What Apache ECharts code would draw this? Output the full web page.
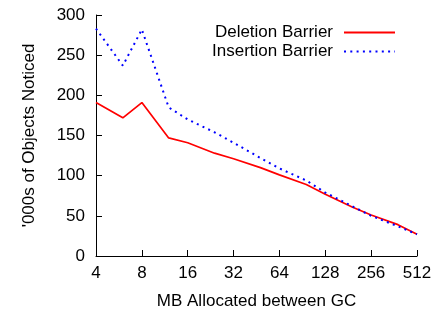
<!DOCTYPE html>
<html>
<head>
<meta charset="utf-8">
<script src="https://cdn.jsdelivr.net/npm/echarts@6/dist/echarts.min.js"></script>
<style>
  html, body { margin: 0; padding: 0; background: #fff; }
  #chart { width: 448px; height: 315px; }
</style>
</head>
<body>
<div id="chart"></div>
<script>
// MB allocated between GC (log2 x axis)
const mbAllocated = [4, 6, 8, 12, 16, 24, 32, 48, 64, 96, 128, 192, 256, 384, 512];
const deletionBarrier = [191, 172, 191, 147, 141, 128, 121, 110, 101, 89, 77, 61, 51, 39, 27];
const insertionBarrier = [283, 237, 282, 185, 170, 154, 141, 122, 109, 94, 79, 62, 50, 37, 27];
const yTicks = [0, 50, 100, 150, 200, 250, 300];

function pairs(xs, ys) {
  return xs.map((x, i) => [x, ys[i]]);
}

function renderChart() {
  const dom = document.getElementById('chart');
  const chart = echarts.init(dom, null, { renderer: 'canvas' });
  const font = 'Liberation Sans';
  const option = {
    animation: false,
    backgroundColor: '#fff',
    grid: {
      left: 96,
      right: 31,
      top: 15,
      bottom: 59
    },
    legend: {
      orient: 'vertical',
      right: 52,
      top: 24,
      padding: 0,
      align: 'right',
      itemWidth: 51,
      itemHeight: 16,
      itemGap: 2,
      itemStyle: { opacity: 0 },
      textStyle: { fontFamily: font, fontSize: 17, color: '#000', padding: [0, 6, 0, 0] },
      data: ['Deletion Barrier', 'Insertion Barrier']
    },
    xAxis: {
      type: 'log',
      logBase: 2,
      min: 4,
      max: 512,
      name: 'MB Allocated between GC',
      nameLocation: 'middle',
      nameGap: 37,
      nameTextStyle: { fontFamily: font, fontSize: 17, color: '#000' },
      axisLine: { lineStyle: { color: '#000', width: 1 } },
      axisTick: { inside: true, length: 6, lineStyle: { color: '#000' } },
      axisLabel: { fontFamily: font, fontSize: 17, color: '#000', margin: 9 },
      splitLine: { show: false },
      minorTick: { show: false }
    },
    yAxis: {
      type: 'value',
      min: yTicks[0],
      max: yTicks[yTicks.length - 1],
      interval: 50,
      name: "'000s of Objects Noticed",
      nameLocation: 'middle',
      nameGap: 58,
      nameTextStyle: { fontFamily: font, fontSize: 17, color: '#000' },
      axisLine: { show: true, lineStyle: { color: '#000', width: 1 } },
      axisTick: { show: true, inside: true, length: 6, lineStyle: { color: '#000' } },
      axisLabel: { fontFamily: font, fontSize: 17, color: '#000', margin: 11 },
      splitLine: { show: false }
    },
    series: [
      {
        name: 'Deletion Barrier',
        type: 'line',
        symbol: 'none',
        data: pairs(mbAllocated, deletionBarrier),
        lineStyle: { color: '#ff0000', width: 1.7 },
        itemStyle: { color: '#ff0000' }
      },
      {
        name: 'Insertion Barrier',
        type: 'line',
        symbol: 'none',
        data: pairs(mbAllocated, insertionBarrier),
        lineStyle: { color: '#0000ff', width: 2, type: [2, 4.3] },
        itemStyle: { color: '#0000ff' }
      }
    ]
  };
  chart.setOption(option, true);
}

renderChart();
</script>
</body>
</html>
